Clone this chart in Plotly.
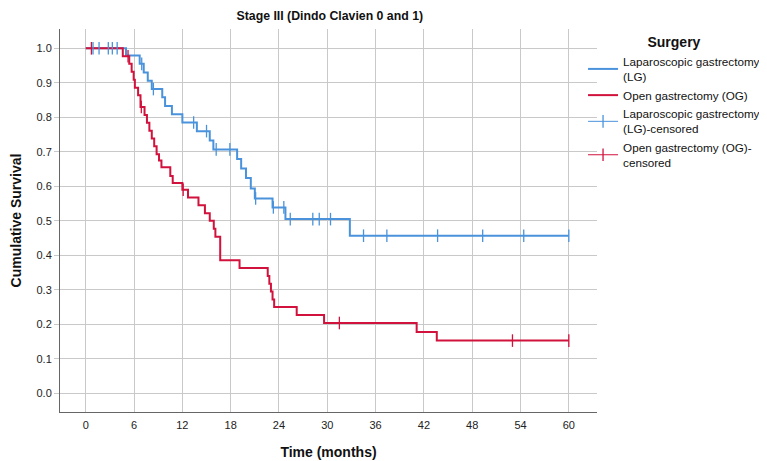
import plotly.graph_objects as go

# Kaplan-Meier step data (time in months, cumulative survival)
lg_times = [0, 5.0, 6.7, 7.2, 7.7, 8.2, 9.5, 9.85, 10.7, 12.0, 13.8, 15.4, 15.85,
            18.8, 19.3, 19.9, 20.5, 21.0, 23.2, 24.8, 32.8, 60.0]
lg_surv = [1.0, 0.979, 0.955, 0.930, 0.906, 0.882, 0.858, 0.833, 0.809, 0.785, 0.760,
           0.733, 0.707, 0.679, 0.652, 0.624, 0.594, 0.565, 0.539, 0.505, 0.457, 0.457]

og_times = [0, 4.6, 5.4, 5.7, 5.95, 6.1, 6.5, 6.8, 7.3, 7.6, 7.9, 8.2, 8.5, 8.8, 9.1,
            9.4, 10.5, 10.8, 12.0, 12.7, 14.0, 14.8, 15.4, 15.9, 16.1, 16.7, 19.1,
            22.6, 22.8, 23.0, 23.2, 23.4, 26.2, 29.6, 41.1, 43.6, 60.0]
og_surv = [1.0, 0.977, 0.955, 0.932, 0.909, 0.886, 0.864, 0.830, 0.807, 0.784, 0.761,
           0.739, 0.716, 0.693, 0.675, 0.655, 0.630, 0.610, 0.590, 0.568, 0.545, 0.522,
           0.500, 0.477, 0.454, 0.386, 0.363, 0.340, 0.318, 0.295, 0.272, 0.250, 0.227,
           0.204, 0.178, 0.153, 0.153]

lg_cens_t = [0.9, 1.65, 2.8, 3.3, 3.9, 6.95, 8.4, 13.4, 15.0, 16.2, 17.9, 21.1, 23.3,
             24.6, 25.4, 28.2, 29.0, 30.4, 34.5, 37.4, 43.7, 49.3, 54.4, 60.0]
lg_cens_s = [1.0, 1.0, 1.0, 1.0, 1.0, 0.955, 0.882, 0.785, 0.760, 0.707, 0.707, 0.565,
             0.539, 0.539, 0.505, 0.505, 0.505, 0.505, 0.457, 0.457, 0.457, 0.457,
             0.457, 0.457]

og_cens_t = [0.7, 5.25, 6.9, 12.1, 31.5, 53.0, 60.0]
og_cens_s = [1.0, 0.977, 0.830, 0.590, 0.204, 0.153, 0.153]

x_ticks = [0, 6, 12, 18, 24, 30, 36, 42, 48, 54, 60]
y_ticks = [0.0, 0.1, 0.2, 0.3, 0.4, 0.5, 0.6, 0.7, 0.8, 0.9, 1.0]

names = ["Laparoscopic gastrectomy<br>(LG)", "Open gastrectomy (OG)",
         "Laparoscopic gastrectomy<br>(LG)-censored", "Open gastrectomy (OG)-<br>censored"]

BLUE = "#4a93dc"
RED = "#d1123c"
FONT = "Liberation Sans, Arial, sans-serif"


def isolate(ts, ss):
    xs, ys = [], []
    for t, s in zip(ts, ss):
        xs += [t, None]
        ys += [s, None]
    return xs, ys


fig = go.Figure()
fig.add_trace(go.Scatter(x=lg_times, y=lg_surv, mode="lines", line_shape="hv",
                         line=dict(color=BLUE, width=2), name=names[0]))
fig.add_trace(go.Scatter(x=og_times, y=og_surv, mode="lines", line_shape="hv",
                         line=dict(color=RED, width=2), name=names[1]))
cx, cy = isolate(lg_cens_t, lg_cens_s)
fig.add_trace(go.Scatter(x=cx, y=cy, mode="lines+markers", connectgaps=False,
                         line=dict(color=BLUE, width=1),
                         marker=dict(symbol="line-ns", size=9,
                                     line=dict(color=BLUE, width=1.3)),
                         name=names[2]))
cx, cy = isolate(og_cens_t, og_cens_s)
fig.add_trace(go.Scatter(x=cx, y=cy, mode="lines+markers", connectgaps=False,
                         line=dict(color=RED, width=1),
                         marker=dict(symbol="line-ns", size=9,
                                     line=dict(color=RED, width=1.3)),
                         name=names[3]))

# page body has an 8px default margin, so the figure is sized/offset to fit the window
fig.update_layout(
    width=759, height=453,
    margin=dict(l=52, r=170, t=21, b=49, autoexpand=False),
    paper_bgcolor="white", plot_bgcolor="white",
    font=dict(family=FONT, size=11, color="#222"),
    title=dict(text="<b>Stage III (Dindo Clavien 0 and 1)</b>", x=0.424, xanchor="center",
               y=0.983, yanchor="middle", font=dict(size=12.3, color="#111")),
    showlegend=True,
    legend=dict(x=0.974, xanchor="left", y=1.0, yanchor="top",
                title=dict(text="<b>Surgery</b>", side="top center",
                           font=dict(size=14, color="#111")),
                font=dict(size=11.7, color="#111"), itemwidth=30,
                tracegroupgap=0, bgcolor="rgba(0,0,0,0)"),
    xaxis=dict(range=[-3.2, 63.5], tickvals=x_ticks, ticktext=[str(v) for v in x_ticks],
               showgrid=True, gridcolor="#c9c9c9", gridwidth=1, zeroline=False,
               showline=True, linecolor="#666", linewidth=1,
               ticks="outside", ticklen=3, tickcolor="rgba(0,0,0,0)",
               tickfont=dict(size=11, color="#222"),
               title=dict(text="<b>Time (months)</b>", font=dict(size=14, color="#111"),
                          standoff=16)),
    yaxis=dict(range=[-0.054, 1.056], tickvals=y_ticks,
               ticktext=["%.1f" % v for v in y_ticks],
               showgrid=True, gridcolor="#c9c9c9", gridwidth=1, zeroline=False,
               showline=True, linecolor="#666", linewidth=1, ticks="outside",
               ticklen=5, tickcolor="#c9c9c9",
               tickfont=dict(size=11, color="#222"),
               title=dict(text="<b>Cumulative Survival</b>", font=dict(size=14, color="#111"),
                          standoff=15)),
)

fig.write_html("out.html")
